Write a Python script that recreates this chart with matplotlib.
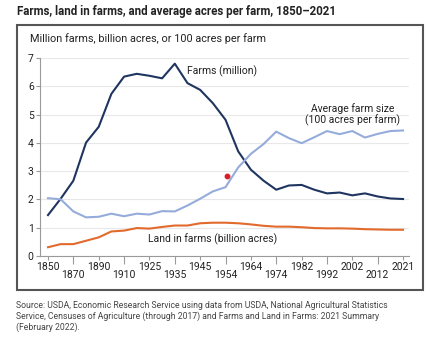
import matplotlib
matplotlib.use("Agg")
import matplotlib.pyplot as plt
from matplotlib.patches import Rectangle

plt.rcParams['font.family'] = ['Roboto', 'DejaVu Sans']

# Census years (evenly spaced on the chart, one slot per census)
years = [1850, 1860, 1870, 1880, 1890, 1900, 1910, 1920, 1925, 1930,
         1935, 1940, 1945, 1950, 1954, 1959, 1964, 1969, 1974, 1978,
         1982, 1987, 1992, 1997, 2002, 2007, 2012, 2017, 2021]

# Number of farms, millions
farms = [1.44, 2.02, 2.66, 4.01, 4.57, 5.74, 6.35, 6.45, 6.38, 6.29,
         6.81, 6.12, 5.88, 5.41, 4.82, 3.70, 3.05, 2.66, 2.34, 2.49,
         2.51, 2.34, 2.21, 2.24, 2.14, 2.21, 2.10, 2.03, 2.01]

# Average farm size, 100 acres per farm
avg_size = [2.04, 2.00, 1.57, 1.36, 1.38, 1.49, 1.40, 1.49, 1.46, 1.58,
            1.57, 1.78, 2.02, 2.28, 2.43, 3.13, 3.61, 3.96, 4.40, 4.17,
            3.99, 4.20, 4.42, 4.31, 4.42, 4.19, 4.32, 4.42, 4.44]

# Land in farms, billion acres
land = [0.30, 0.41, 0.41, 0.53, 0.65, 0.86, 0.89, 0.98, 0.96, 1.02,
        1.07, 1.07, 1.15, 1.17, 1.17, 1.15, 1.11, 1.06, 1.03, 1.03,
        1.01, 0.98, 0.97, 0.97, 0.96, 0.94, 0.93, 0.92, 0.92]

# stray highlighted point near 1954
dot_year = 1954
dot_value = 2.81

upper_years = [1850, 1890, 1925, 1945, 1964, 1982, 2002, 2021]
lower_years = [1870, 1910, 1935, 1954, 1974, 1992, 2012]

pos = list(range(len(years)))
idx = {y: i for i, y in enumerate(years)}

fig = plt.figure(figsize=(4.45, 3.42), dpi=100)
fig.patch.set_facecolor('white')

# frame around the chart panel
fig.patches.append(Rectangle((17 / 445, 1 - 290 / 342), 406 / 445, 265.5 / 342,
                             transform=fig.transFigure, fill=False,
                             edgecolor='#555555', linewidth=1.5))

ax = fig.add_axes([40 / 445, 1 - 255.7 / 342, 369 / 445, 197.4 / 342])

ax.plot(pos, farms, color='#1f3560', lw=1.5, zorder=3)
ax.plot(pos, avg_size, color='#95acdb', lw=1.5, zorder=3)
ax.plot(pos, land, color='#e26a2c', lw=1.5, zorder=3)
ax.plot([idx[dot_year] + 0.1], [dot_value], 'o', color='#d9202a', ms=3.2, zorder=4)

ax.set_ylim(0, 7)
ax.set_xlim(-0.63, 28.47)
ax.set_yticks(range(0, 8))
ax.grid(axis='y', color='#e8e8e8', lw=0.8)
ax.set_axisbelow(True)

for s in ['top', 'right']:
    ax.spines[s].set_visible(False)
for s in ['left', 'bottom']:
    ax.spines[s].set_color('#9a9a9a')
    ax.spines[s].set_linewidth(0.8)

ax.set_xticks([idx[y] for y in upper_years])
ax.set_xticklabels([str(y) for y in upper_years])
ax.set_xticks([idx[y] for y in lower_years], minor=True)
ax.set_xticklabels([str(y) for y in lower_years], minor=True)
ax.tick_params(axis='x', which='major', length=3, width=0.8, color='#9a9a9a',
               pad=1.5, labelsize=7.5, labelcolor='#222222')
ax.tick_params(axis='x', which='minor', length=6, width=0.8, color='#9a9a9a',
               pad=4.5, labelsize=7.5, labelcolor='#222222')
ax.tick_params(axis='y', length=3, width=0.8, color='#9a9a9a', pad=1.5,
               labelsize=7.5, labelcolor='#222222')

ax.text(11.0, 6.55, 'Farms (million)', fontsize=7.5, color='#222222',
        ha='left', va='center')
ax.text(24.0, 5.0, 'Average farm size\n(100 acres per farm)', fontsize=7.5,
        color='#222222', ha='center', va='center', linespacing=1.0)
ax.text(13.0, 0.58, 'Land in farms (billion acres)', fontsize=7.5,
        color='#222222', ha='center', va='center')

fig.text(17 / 445, 1 - 12 / 342,
         'Farms, land in farms, and average acres per farm, 1850\u20132021',
         fontsize=8.3, fontweight='bold', color='#222222', ha='left', va='center')
fig.text(30 / 445, 1 - 39 / 342,
         'Million farms, billion acres, or 100 acres per farm',
         fontsize=7.8, color='#222222', ha='left', va='center')
fig.text(16 / 445, 1 - 301.5 / 342,
         'Source: USDA, Economic Research Service using data from USDA, National Agricultural Statistics\n'
         'Service, Censuses of Agriculture (through 2017) and Farms and Land in Farms: 2021 Summary\n'
         '(February 2022).',
         fontsize=6.25, color='#444444', ha='left', va='top', linespacing=1.15)

fig.savefig('out.png', dpi=100, facecolor='white')
